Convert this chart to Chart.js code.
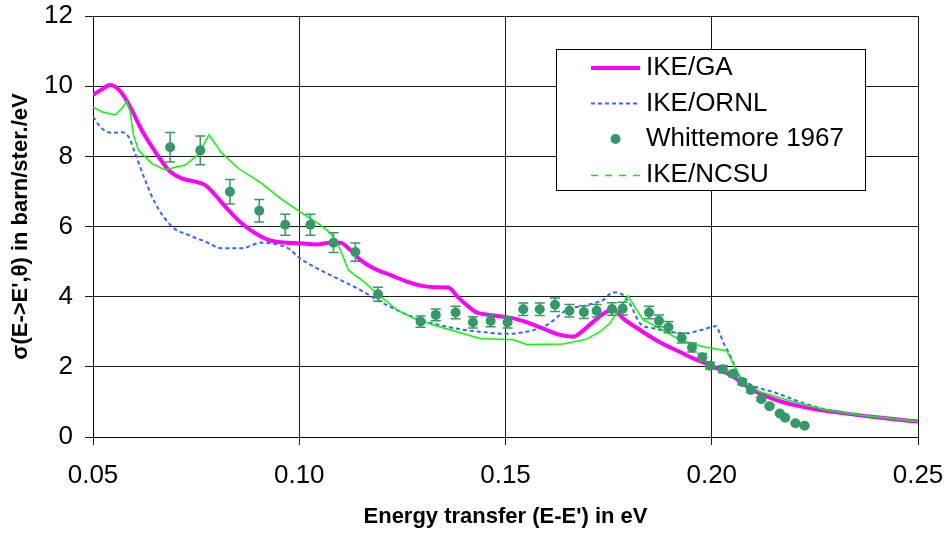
<!DOCTYPE html>
<html>
<head>
<meta charset="utf-8">
<script src="https://cdn.jsdelivr.net/npm/chart.js@4/dist/chart.umd.min.js"></script>
<style>
  body { margin: 0; background: #fff; }
  #wrap { width: 945px; height: 533px; }
</style>
</head>
<body>
<div id="wrap"><canvas id="chart" width="945" height="533"></canvas></div>
<script>
// axis ticks
var xTicks = [0.05, 0.10, 0.15, 0.20, 0.25];
var yTicks = [0, 2, 4, 6, 8, 10, 12];

// IKE/GA
var gaX = [0.050, 0.052, 0.0542, 0.057, 0.0594, 0.0618, 0.0651, 0.0683, 0.0715, 0.0747, 0.0772, 0.0796, 0.0828, 0.086, 0.0893, 0.0925, 0.0957, 0.1002, 0.1043, 0.1075, 0.1099, 0.1124, 0.1148, 0.118, 0.122, 0.1261, 0.1301, 0.1333, 0.1361, 0.1385, 0.1406, 0.143, 0.1462, 0.1519, 0.1559, 0.16, 0.1632, 0.1664, 0.168, 0.1713, 0.1745, 0.1761, 0.1785, 0.1826, 0.1874, 0.1922, 0.1955, 0.1996, 0.2052, 0.2092, 0.2157, 0.2237, 0.2318, 0.2399, 0.25];
var gaY = [9.75, 9.9, 10.03, 9.80, 9.32, 8.75, 8.13, 7.61, 7.37, 7.28, 7.18, 6.90, 6.47, 6.09, 5.81, 5.62, 5.55, 5.52, 5.49, 5.54, 5.54, 5.33, 5.05, 4.81, 4.62, 4.43, 4.30, 4.27, 4.26, 3.98, 3.76, 3.55, 3.48, 3.38, 3.24, 3.05, 2.91, 2.86, 2.96, 3.29, 3.57, 3.64, 3.38, 3.05, 2.70, 2.43, 2.24, 2.05, 1.72, 1.39, 1.05, 0.82, 0.68, 0.56, 0.44];

// IKE/ORNL
var ornlX = [0.050, 0.0521, 0.0546, 0.057, 0.0586, 0.0602, 0.0626, 0.0651, 0.0691, 0.0731, 0.0772, 0.0812, 0.086, 0.0909, 0.0941, 0.0973, 0.1002, 0.1051, 0.1099, 0.1148, 0.1196, 0.1245, 0.1293, 0.1341, 0.139, 0.1438, 0.1503, 0.1551, 0.16, 0.1632, 0.1648, 0.1697, 0.1737, 0.1761, 0.1777, 0.1801, 0.1826, 0.1858, 0.1939, 0.1975, 0.2011, 0.2019, 0.2031, 0.204, 0.2068, 0.2088, 0.2157, 0.2237, 0.2318, 0.2399, 0.25];
var ornlY = [9.13, 8.80, 8.67, 8.69, 8.56, 8.09, 7.33, 6.66, 6.00, 5.76, 5.57, 5.38, 5.38, 5.54, 5.50, 5.38, 5.09, 4.76, 4.48, 4.19, 3.86, 3.57, 3.34, 3.19, 3.07, 3.00, 2.94, 3.00, 3.19, 3.48, 3.62, 3.76, 3.91, 4.12, 4.10, 3.81, 3.24, 3.10, 2.96, 3.05, 3.16, 2.96, 2.62, 2.43, 1.72, 1.53, 1.25, 0.91, 0.68, 0.56, 0.44];

// IKE/NCSU
var ncsuX = [0.050, 0.0521, 0.0554, 0.057, 0.0582, 0.059, 0.0598, 0.061, 0.0642, 0.0675, 0.0699, 0.0723, 0.0755, 0.0781, 0.0812, 0.0852, 0.0909, 0.0954, 0.1002, 0.1051, 0.1075, 0.1095, 0.1119, 0.1156, 0.1196, 0.1237, 0.1277, 0.1325, 0.1382, 0.1438, 0.1519, 0.1551, 0.164, 0.1697, 0.1729, 0.1753, 0.1769, 0.1785, 0.1797, 0.1818, 0.1834, 0.1874, 0.1922, 0.1979, 0.2036, 0.2068, 0.2088, 0.2116, 0.2196, 0.2277, 0.2358, 0.25];
var ncsuY = [9.40, 9.27, 9.18, 9.37, 9.56, 9.27, 8.61, 8.18, 7.80, 7.61, 7.69, 7.75, 8.04, 8.61, 8.09, 7.66, 7.23, 6.80, 6.42, 6.04, 5.82, 5.47, 4.76, 4.43, 4.02, 3.62, 3.38, 3.19, 3.00, 2.81, 2.77, 2.64, 2.65, 2.79, 3.00, 3.24, 3.53, 3.81, 4.02, 3.62, 3.34, 3.10, 2.77, 2.57, 2.46, 1.72, 1.48, 1.29, 1.01, 0.77, 0.63, 0.44];

// Whittemore 1967 (measured, with error)
var whitX = [0.0687, 0.0760, 0.0832, 0.0903, 0.0966, 0.1027, 0.1083, 0.1136, 0.1191, 0.1294, 0.1331, 0.1379, 0.1421, 0.1464, 0.1505, 0.1543, 0.1583, 0.1620, 0.1655, 0.1690, 0.1721, 0.1758, 0.1784, 0.1848, 0.1872, 0.1895, 0.1927, 0.1952, 0.1977, 0.1996, 0.2027, 0.2052, 0.2074, 0.2095, 0.2120, 0.2140, 0.2165, 0.2178, 0.2203, 0.2225];
var whitY = [8.26, 8.17, 6.99, 6.45, 6.05, 6.05, 5.54, 5.27, 4.07, 3.29, 3.48, 3.55, 3.27, 3.31, 3.27, 3.64, 3.64, 3.77, 3.60, 3.56, 3.60, 3.65, 3.66, 3.55, 3.31, 3.13, 2.82, 2.55, 2.27, 2.03, 1.93, 1.80, 1.57, 1.34, 1.08, 0.88, 0.67, 0.55, 0.39, 0.32];
var whitErr = [0.42, 0.41, 0.35, 0.32, 0.30, 0.30, 0.28, 0.26, 0.20, 0.16, 0.17, 0.18, 0.16, 0.17, 0.16, 0.18, 0.18, 0.19, 0.18, 0.18, 0.18, 0.18, 0.18, 0.18, 0.17, 0.16, 0.14, 0.13, 0.11, 0.10, 0.10, 0.09, 0.08, 0.07, 0.05, 0.04, 0.03, 0.03, 0.02, 0.02];

var FONT = '"Liberation Sans", Arial, sans-serif';
var GREEN_DOT = '#339966';

toPoints = (xs, ys) => xs.map((x, i) => ({x: x, y: ys[i]}));

// error bars, drawn just before the Whittemore markers
var errorBars = {
    id: 'errorBars',
    beforeDatasetDraw(chart, args) {
        if (chart.data.datasets[args.index].label !== 'Whittemore 1967') return;
        var c = chart.ctx, xs = chart.scales.x, ys = chart.scales.y;
        c.save();
        c.strokeStyle = GREEN_DOT;
        c.lineWidth = 1.5;
        for (var i = 0; i < whitX.length; i++) {
            var px = xs.getPixelForValue(whitX[i]);
            var top = ys.getPixelForValue(whitY[i] + whitErr[i]);
            var bot = ys.getPixelForValue(whitY[i] - whitErr[i]);
            c.beginPath();
            c.moveTo(px, top); c.lineTo(px, bot);
            c.moveTo(px - 5, top); c.lineTo(px + 5, top);
            c.moveTo(px - 5, bot); c.lineTo(px + 5, bot);
            c.stroke();
        }
        c.restore();
    }
};

// legend box inside the plot, top right
var boxLegend = {
    id: 'boxLegend',
    afterDraw(chart) {
        var c = chart.ctx;
        var bx = 556.5, by = 49.5, bw = 309, bh = 141;
        var rows = [68, 103.5, 139, 174.5];
        c.save();
        c.fillStyle = '#fff';
        c.fillRect(bx, by, bw, bh);
        c.strokeStyle = '#000';
        c.lineWidth = 1;
        c.strokeRect(bx, by, bw, bh);

        var x0 = 591, x1 = 640;
        // IKE/GA
        c.strokeStyle = '#ff00ff'; c.lineWidth = 4; c.setLineDash([]);
        c.beginPath(); c.moveTo(x0, rows[0]); c.lineTo(x1, rows[0]); c.stroke();
        // IKE/ORNL
        c.strokeStyle = '#3366ff'; c.lineWidth = 2; c.setLineDash([4, 3]);
        c.beginPath(); c.moveTo(x0, rows[1]); c.lineTo(x1, rows[1]); c.stroke();
        // Whittemore
        c.setLineDash([]);
        c.fillStyle = GREEN_DOT;
        c.beginPath(); c.arc((x0 + x1) / 2, rows[2], 5, 0, Math.PI * 2); c.fill();
        // IKE/NCSU
        c.strokeStyle = '#00ee00'; c.lineWidth = 1.5; c.setLineDash([7, 7]);
        c.beginPath(); c.moveTo(x0, rows[3] + 1); c.lineTo(x1, rows[3] + 1); c.stroke();
        c.setLineDash([]);

        c.fillStyle = '#000';
        c.font = '26px ' + FONT;
        c.textAlign = 'left';
        c.textBaseline = 'middle';
        var names = chart.data.datasets.map(d => d.label);
        for (var i = 0; i < names.length; i++) {
            c.fillText(names[i], 646, rows[i]);
        }
        c.restore();
    }
};

var ctx = document.getElementById('chart').getContext('2d');

var myChart = new Chart(ctx, {
    type: 'scatter',
    data: {
        datasets: [
            {
                label: 'IKE/GA',
                data: toPoints(gaX, gaY),
                showLine: true,
                borderColor: '#ff00ff',
                borderWidth: 4,
                pointRadius: 0,
                cubicInterpolationMode: 'monotone',
                order: 3
            },
            {
                label: 'IKE/ORNL',
                data: toPoints(ornlX, ornlY),
                showLine: true,
                borderColor: '#3366ff',
                borderWidth: 2,
                borderDash: [4, 3],
                pointRadius: 0,
                cubicInterpolationMode: 'monotone',
                order: 2
            },
            {
                label: 'Whittemore 1967',
                data: toPoints(whitX, whitY),
                showLine: false,
                backgroundColor: GREEN_DOT,
                borderColor: GREEN_DOT,
                pointRadius: 5,
                pointBorderWidth: 0,
                order: 0
            },
            {
                label: 'IKE/NCSU',
                data: toPoints(ncsuX, ncsuY),
                showLine: true,
                borderColor: '#00ff00',
                borderWidth: 1.5,
                pointRadius: 0,
                tension: 0,
                order: 1
            }
        ]
    },
    options: {
        responsive: false,
        animation: false,
        events: [],
        layout: {
            padding: {left: 0, right: 27, top: 16, bottom: 0}
        },
        plugins: {
            legend: {display: false},
            tooltip: {enabled: false}
        },
        scales: {
            x: {
                type: 'linear',
                min: 0.05,
                max: 0.25,
                afterBuildTicks: (scale) => { scale.ticks = xTicks.map(v => ({value: v})); },
                // fixed height, and no extra room for label overflow
                afterFit: (scale) => { scale.height = 96; scale.paddingLeft = 0; scale.paddingRight = 0; },
                grid: {color: '#1a1a1a', lineWidth: 1, tickLength: 8},
                border: {color: '#000', width: 1},
                ticks: {
                    color: '#000',
                    padding: 15,
                    maxRotation: 0,
                    font: {family: FONT, size: 26},
                    callback: (v) => v.toFixed(2)
                },
                title: {
                    display: true,
                    text: "Energy transfer (E-E') in eV",
                    color: '#000',
                    font: {family: FONT, size: 22, weight: 'bold'},
                    padding: {top: 0, bottom: 3}
                }
            },
            y: {
                type: 'linear',
                min: 0,
                max: 12,
                afterBuildTicks: (scale) => { scale.ticks = yTicks.map(v => ({value: v})); },
                afterFit: (scale) => { scale.width = 93; scale.paddingTop = 0; scale.paddingBottom = 0; },
                grid: {color: '#1a1a1a', lineWidth: 1, tickLength: 8},
                border: {color: '#000', width: 1},
                ticks: {
                    color: '#000',
                    padding: 12,
                    font: {family: FONT, size: 26},
                    callback: (v) => String(v)
                },
                title: {
                    display: true,
                    text: "σ(E->E',θ) in barn/ster./eV",
                    color: '#000',
                    font: {family: FONT, size: 22, weight: 'bold'},
                    padding: {top: 8, bottom: 0}
                }
            }
        }
    },
    plugins: [errorBars, boxLegend]
});
</script>
</body>
</html>
